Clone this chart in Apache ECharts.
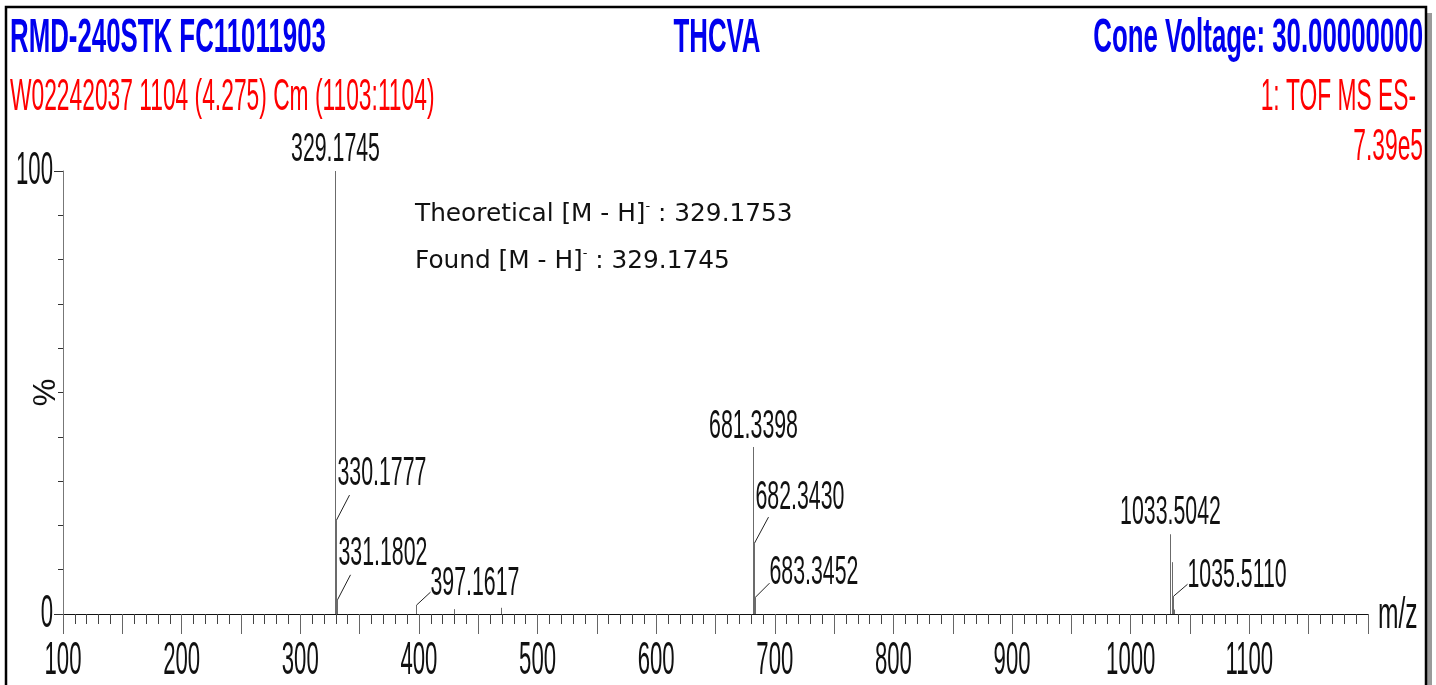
<!DOCTYPE html>
<html>
<head>
<meta charset="utf-8">
<script src="https://cdn.jsdelivr.net/npm/echarts@6/dist/echarts.min.js"></script>
<style>
  html, body { margin: 0; padding: 0; background: #fff; }
  #chart { width: 1436px; height: 685px; }
</style>
</head>
<body>
<div id="chart"></div>
<script>
// spectrum sticks (m/z, relative intensity %)
var peakMz = [329.1745, 330.1777, 331.1802, 397.1617, 429.3, 469.0, 681.3398, 682.3430, 683.3452, 1033.5042, 1034.5, 1035.5110, 1036.5];
var peakIntensity = [100, 21.2, 3.2, 2.0, 1.1, 1.4, 37.7, 16.0, 3.8, 18.0, 11.7, 4.0, 1.0];

// peaks that carry an m/z label
var labeledMz = [329.1745, 330.1777, 331.1802, 397.1617, 681.3398, 682.3430, 683.3452, 1033.5042, 1035.5110];

var xMin = 100, xMax = 1200;
var xTicks = [100, 200, 300, 400, 500, 600, 700, 800, 900, 1000, 1100];
var yTicks = [0, 100];

var titleLeft = 'RMD-240STK FC11011903';
var titleMid = 'THCVA';
var titleRight = 'Cone Voltage: 30.00000000';
var subLeft = 'W02242037 1104 (4.275) Cm (1103:1104)';
var subRight = '1: TOF MS ES-';
var subRight2 = '7.39e5';
var noteTheo = ['Theoretical [M - H]', ' : 329.1753'];
var noteFound = ['Found [M - H]', ' : 329.1745'];

// label placement (pixel offsets from the peak top): leader end, text anchor
var labelLayout = {
    '329.1745': {lead: null, tx: 0, ty: -21, align: 'center'},
    '330.1777': {lead: [13, -25], tx: 1, ty: -46, align: 'left'},
    '331.1802': {lead: [13, -25], tx: 1, ty: -46, align: 'left'},
    '397.1617': {lead: [14, -13], tx: 14, ty: -21, align: 'left'},
    '681.3398': {lead: null, tx: 0, ty: -20, align: 'center'},
    '682.343': {lead: [14, -26], tx: 1, ty: -45, align: 'left'},
    '683.3452': {lead: [14, -14], tx: 14, ty: -24, align: 'left'},
    '1033.5042': {lead: null, tx: 0, ty: -22, align: 'center'},
    '1035.511': {lead: [14, -12], tx: 14, ty: -21, align: 'left'}
};

// MassLynx style: Arial squeezed sideways and stretched up
var arial = "'Liberation Sans', Arial, sans-serif";
var squeeze = 0.82;

var peakData = [];
for (var i = 0; i < peakMz.length; i++) {
    peakData.push([peakMz[i], peakIntensity[i]]);
}
var labelData = [];
for (var j = 0; j < labeledMz.length; j++) {
    var k = peakMz.indexOf(labeledMz[j]);
    labelData.push([labeledMz[j], peakIntensity[k]]);
}
var xTickData = xTicks.map(function (v) { return [v, 0]; });
var yTickData = yTicks.map(function (v) { return [xMin, v]; });

function narrowText(txt, x, y, size, sy, bold, color, align) {
    return {
        type: 'text',
        x: x,
        y: y,
        scaleX: squeeze,
        scaleY: sy,
        style: {
            text: txt,
            font: (bold ? 'bold ' : '') + size + 'px ' + arial,
            fill: color,
            align: align,
            verticalAlign: 'middle'
        }
    };
}

// annotation line with a small raised minus after the bracket
function noteText(parts, y) {
    return {
        type: 'text',
        x: 415,
        y: y,
        style: {
            text: '{n|' + parts[0] + '}{s|-}{n|' + parts[1] + '}',
            verticalAlign: 'middle',
            rich: {
                n: {fontFamily: '"DejaVu Sans", Verdana, sans-serif', fontSize: 24.8, fill: '#111', lineHeight: 30},
                s: {fontFamily: '"DejaVu Sans", Verdana, sans-serif', fontSize: 13, fill: '#111', verticalAlign: 'top', lineHeight: 12}
            }
        }
    };
}

function renderStick(params, api) {
    var p0 = api.coord([api.value(0), 0]);
    var p1 = api.coord([api.value(0), api.value(1)]);
    var x = Math.round(p0[0]) + 0.5;
    return {
        type: 'line',
        shape: {x1: x, y1: p0[1], x2: x, y2: p1[1]},
        style: {stroke: '#6b6b6b', lineWidth: 1}
    };
}

function renderLabel(params, api) {
    var mz = api.value(0);
    var top = api.coord([mz, api.value(1)]);
    var x = Math.round(top[0]) + 0.5;
    var lay = labelLayout[String(mz)];
    var children = [];
    if (lay.lead) {
        children.push({
            type: 'line',
            shape: {x1: x, y1: top[1], x2: x + lay.lead[0], y2: top[1] + lay.lead[1]},
            style: {stroke: '#222', lineWidth: 1}
        });
    }
    children.push(narrowText(mz.toFixed(4), x + lay.tx, top[1] + lay.ty, 26, 1.58, false, '#111', lay.align));
    return {type: 'group', children: children};
}

function renderXTick(params, api) {
    var p = api.coord([api.value(0), 0]);
    return narrowText(String(api.value(0)), p[0], p[1] + 47, 27, 1.7, false, '#111', 'center');
}

function renderYTick(params, api) {
    var p = api.coord([xMin, api.value(1)]);
    return narrowText(String(api.value(1)), p[0] - 10, p[1], 27, 1.7, false, '#111', 'right');
}

var myChart = echarts.init(document.getElementById('chart'));

var option = {
    backgroundColor: '#fff',
    animation: false,
    graphic: [
        {type: 'rect', shape: {x: 12, y: 13, width: 1420, height: 700}, style: {fill: '#9a9a9a'}, z: -10},
        {type: 'rect', shape: {x: 6, y: 7, width: 1420, height: 700}, style: {fill: '#fff', stroke: '#000', lineWidth: 2.5}, z: -9},
        narrowText(titleLeft, 10, 39, 31.5, 1.5, true, '#0000ee', 'left'),
        narrowText(titleMid, 717, 39, 31.5, 1.5, true, '#0000ee', 'center'),
        narrowText(titleRight, 1423, 39, 31.5, 1.5, true, '#0000ee', 'right'),
        narrowText(subLeft, 10, 98, 27.8, 1.57, false, '#ff0000', 'left'),
        narrowText(subRight, 1416, 98, 27.8, 1.57, false, '#ff0000', 'right'),
        narrowText(subRight2, 1423, 148, 27.8, 1.57, false, '#ff0000', 'right'),
        narrowText('m/z', 1378, 616, 30, 1.45, false, '#111', 'left'),
        noteText(noteTheo, 215),
        noteText(noteFound, 262)
    ],
    grid: {
        left: 63,
        right: 68,
        top: 171,
        bottom: 71,
        containLabel: false,
        outerBoundsMode: 'none'
    },
    xAxis: {
        type: 'value',
        min: xMin,
        max: xMax,
        interval: 50,
        splitLine: {show: false},
        axisLine: {onZero: false, lineStyle: {color: '#111', width: 1}},
        axisTick: {show: true, inside: false, length: 20, lineStyle: {color: '#666'}},
        minorTick: {show: true, splitNumber: 5, length: 10, lineStyle: {color: '#444'}},
        axisLabel: {show: false}
    },
    yAxis: {
        type: 'value',
        min: 0,
        max: 100,
        interval: 100,
        name: '%',
        nameLocation: 'middle',
        nameGap: 1,
        nameRotate: 90,
        nameTextStyle: {fontFamily: arial, fontSize: 31, color: '#111'},
        splitLine: {show: false},
        axisLine: {show: true, lineStyle: {color: '#777', width: 1}},
        axisTick: {show: true, length: 9, lineStyle: {color: '#333'}},
        minorTick: {show: true, splitNumber: 10, length: 5, lineStyle: {color: '#333'}},
        axisLabel: {show: false}
    },
    series: [
        {
            name: 'spectrum',
            type: 'custom',
            renderItem: renderStick,
            data: peakData,
            z: 2
        },
        {
            name: 'labels',
            type: 'custom',
            renderItem: renderLabel,
            data: labelData,
            clip: false,
            z: 3
        },
        {
            name: 'xTickLabels',
            type: 'custom',
            renderItem: renderXTick,
            data: xTickData,
            clip: false,
            silent: true
        },
        {
            name: 'yTickLabels',
            type: 'custom',
            renderItem: renderYTick,
            data: yTickData,
            clip: false,
            silent: true
        }
    ]
};

myChart.setOption(option);
</script>
</body>
</html>
